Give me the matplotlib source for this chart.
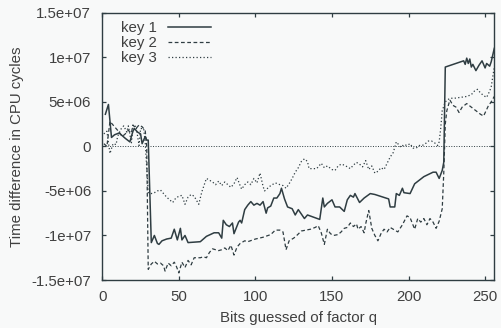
import numpy as np
from matplotlib import pyplot as plt

# Values (y in millions of cycles)
k1_x = [2, 4, 6, 8, 11, 13, 15, 18, 20, 21, 23, 25, 26, 28, 29, 30, 32, 34, 36, 37, 39, 42,
        45, 47, 49, 51, 52, 54, 56, 64, 68, 73, 76, 78, 79, 81, 83, 85, 86, 89, 90, 91,
        93, 95, 97, 99, 101, 103, 105, 107, 108, 110, 112, 114, 116, 117, 119, 121, 124,
        126, 128, 130, 132, 134, 142, 144, 145, 147, 150, 152, 155, 158, 160, 162, 164,
        165, 168, 171, 175, 178, 187, 188, 191, 192, 194, 196, 197, 201, 204, 210, 216,
        218, 220, 222, 223, 224, 236, 237, 238, 239, 240, 241, 242, 244, 246, 248, 250,
        251, 253, 254, 256]
k1_y = [3.6, 4.7, 1.0, 1.3, 1.5, 1.2, 0.9, 0.5, 1.7, 2.0, 1.6, 1.4, 0.3, 1.1, 0.7, 0.7,
        -10.8, -10.0, -10.9, -11.0, -10.6, -10.4, -10.3, -9.3, -10.5, -9.2, -10.5, -10.0,
        -10.8, -10.7, -10.1, -9.7, -9.7, -10.3, -8.3, -8.8, -9.0, -8.6, -9.8, -8.5, -8.3,
        -8.6, -7.1, -6.6, -6.2, -6.6, -6.4, -6.6, -6.2, -7.5, -6.9, -6.7, -5.8, -5.8, -5.3,
        -4.7, -5.9, -6.8, -7.0, -7.7, -7.1, -7.6, -8.1, -7.7, -8.2, -5.8, -6.8, -6.4, -6.0,
        -6.8, -6.8, -7.3, -6.0, -5.5, -5.7, -5.3, -6.3, -5.8, -5.3, -5.4, -5.9, -6.8, -6.8,
        -5.3, -5.5, -4.7, -5.2, -5.3, -4.2, -3.4, -2.9, -2.9, -3.6, -2.7, -1.8, 8.9, 9.6,
        9.2, 9.9, 9.3, 9.8, 8.9, 9.2, 8.5, 9.1, 9.6, 8.8, 9.3, 9.0, 9.5, 11.0]

k2_x = [1, 3, 5, 7, 9, 11, 13, 15, 17, 19, 20, 22, 24, 26, 28, 29, 30, 32, 34, 36, 38, 40,
        41, 43, 45, 47, 48, 50, 52, 54, 56, 58, 60, 64, 66, 68, 70, 72, 74, 76, 78, 80,
        82, 84, 86, 88, 90, 93, 95, 100, 105, 110, 113, 116, 118, 120, 122, 125, 127, 130,
        133, 136, 139, 141, 143, 145, 147, 149, 151, 154, 156, 158, 160, 162, 164, 166,
        167, 169, 171, 172, 174, 176, 178, 180, 182, 184, 186, 188, 190, 193, 196, 199,
        201, 204, 206, 208, 210, 212, 214, 216, 218, 220, 222, 223, 224, 225, 227, 229,
        231, 233, 235, 238, 241, 244, 247, 249, 252, 254, 256]
k2_y = [0.3, 0.0, 2.8, 2.4, 2.0, 1.6, 1.1, 1.4, 1.8, 1.5, 2.4, 2.0, 2.4, 2.2, 1.8, 0.0,
        -13.8, -13.2, -12.9, -13.2, -13.1, -13.4, -14.0, -13.1, -13.4, -13.0, -13.3,
        -14.2, -13.0, -13.6, -12.8, -13.3, -12.5, -12.5, -12.4, -12.5, -11.9, -11.5,
        -11.6, -11.7, -11.6, -11.4, -11.7, -11.1, -12.2, -11.3, -10.9, -10.6, -10.7,
        -10.4, -10.2, -9.9, -9.4, -9.4, -9.6, -11.6, -10.6, -10.3, -10.0, -9.5, -9.4,
        -9.3, -9.1, -8.9, -9.7, -11.0, -9.3, -9.8, -10.0, -9.9, -9.6, -9.2, -9.1, -8.6,
        -9.0, -8.7, -9.3, -9.0, -9.7, -8.7, -7.2, -9.2, -10.0, -10.6, -9.8, -9.3, -9.6,
        -9.1, -9.3, -9.6, -8.8, -7.8, -8.0, -9.3, -8.1, -8.5, -8.1, -8.8, -8.1, -8.5,
        -9.2, -8.4, -7.0, -3.0, 2.5, 4.0, 5.2, 4.6, 4.4, 3.8, 4.4, 4.8, 4.4, 4.0, 3.6,
        3.4, 4.5, 5.0, 5.6]

k3_x = [1, 3, 5, 7, 9, 10, 12, 14, 16, 17, 19, 20, 22, 24, 25, 27, 28, 30, 32, 34, 36, 38,
        40, 42, 44, 46, 48, 50, 52, 54, 56, 58, 60, 61, 63, 65, 68, 70, 72, 74, 76, 78,
        80, 82, 84, 86, 88, 90, 91, 93, 95, 97, 99, 101, 103, 105, 106, 108, 110, 113,
        116, 118, 120, 122, 124, 126, 128, 130, 132, 134, 135, 137, 140, 143, 145, 147,
        150, 152, 154, 156, 158, 160, 162, 164, 166, 168, 170, 172, 174, 176, 178, 180,
        182, 184, 186, 188, 190, 192, 193, 195, 197, 199, 201, 203, 205, 207, 209, 211,
        213, 215, 217, 219, 220, 221, 222, 224, 227, 230, 234, 238, 241, 243, 245, 247,
        249, 251, 253, 254, 256]
k3_y = [1.4, 1.7, -0.8, 0.3, 0.2, 1.1, 1.9, 2.3, 1.6, 2.3, 0.4, 2.1, 2.3, 0.1, 2.0, 2.0,
        0.5, -5.2, -5.3, -5.2, -5.0, -4.9, -5.3, -5.7, -6.0, -6.3, -5.8, -5.6, -5.5, -6.5,
        -5.7, -5.4, -5.6, -5.9, -6.5, -5.1, -3.6, -3.8, -4.0, -4.3, -3.9, -4.4, -4.0,
        -4.3, -4.6, -4.2, -3.5, -4.4, -4.8, -4.3, -4.0, -4.3, -3.6, -4.1, -3.0, -4.5,
        -5.0, -4.7, -4.4, -4.1, -4.3, -4.4, -4.7, -4.2, -3.6, -2.9, -2.4, -1.7, -1.4,
        -1.7, -2.5, -2.5, -2.5, -1.9, -2.4, -2.2, -2.6, -2.7, -2.2, -2.0, -2.1, -2.3,
        -2.5, -2.1, -1.8, -2.0, -2.3, -1.6, -2.6, -2.2, -3.0, -2.8, -2.4, -2.6, -1.9,
        -1.2, -0.7, 0.5, 0.3, -0.1, 0.2, 0.1, 0.3, -0.2, -0.2, 0.1, 0.1, 0.3, 0.6, 0.6,
        0.4, 0.1, 0.5, 2.0, 4.0, 5.0, 5.4, 5.4, 5.5, 5.6, 5.8, 6.2, 6.4, 6.0, 5.7, 5.5,
        6.2, 6.7, 8.9]

labels = ["key 1", "key 2", "key 3"]
yticks = [-1.5e7, -1e7, -5e6, 0, 5e6, 1e7, 1.5e7]
ytick_labels = ["-1.5e+07", "-1e+07", "-5e+06", "0", "5e+06", "1e+07", "1.5e+07"]
xticks = [0, 50, 100, 150, 200, 250]

bg = "#f8f9f9"
ink = "#2f3d42"
txt = "#404040"

plt.rcParams['font.family'] = ['Liberation Sans', 'DejaVu Sans']
plt.rcParams['font.size'] = 10.8

fig = plt.figure(figsize=(5.01, 3.28), dpi=100, facecolor=bg)
ax = fig.add_axes([0.2042, 0.1463, 0.7824, 0.815], facecolor=bg)

M = 1e6
ax.axhline(0, color=ink, lw=0.7, ls=(0, (1, 1.6)), zorder=1)
ax.plot(k1_x, np.array(k1_y) * M, color=ink, lw=1.1, label=labels[0])
ax.plot(k2_x, np.array(k2_y) * M, color=ink, lw=0.9, ls=(0, (3, 2)), label=labels[1])
ax.plot(k3_x, np.array(k3_y) * M, color=ink, lw=0.9, ls=(0, (1, 1.8)), label=labels[2])

ax.set_xlim(0, 256)
ax.set_ylim(-1.5e7, 1.5e7)
ax.set_xticks(xticks)
ax.set_yticks(yticks)
ax.set_yticklabels(ytick_labels)
ax.tick_params(direction='in', length=3, width=0.9, color=ink, labelcolor=txt,
               top=True, right=True)
ax.tick_params(axis='x', pad=7)
ax.tick_params(axis='y', pad=8)
for s in ax.spines.values():
    s.set_color(ink)
    s.set_linewidth(1.0)

ax.set_xlabel("Bits guessed of factor q", color=txt, labelpad=5)
ax.set_ylabel("Time difference in CPU cycles", color=txt, labelpad=5)

leg = ax.legend(loc='upper left', bbox_to_anchor=(0.032, 0.99), frameon=False,
                markerfirst=False, handlelength=2.85, handletextpad=0.75,
                labelspacing=0.05, borderaxespad=0.2, borderpad=0.2)
for t in leg.get_texts():
    t.set_color(txt)

plt.savefig("out.png", dpi=100, facecolor=bg)
